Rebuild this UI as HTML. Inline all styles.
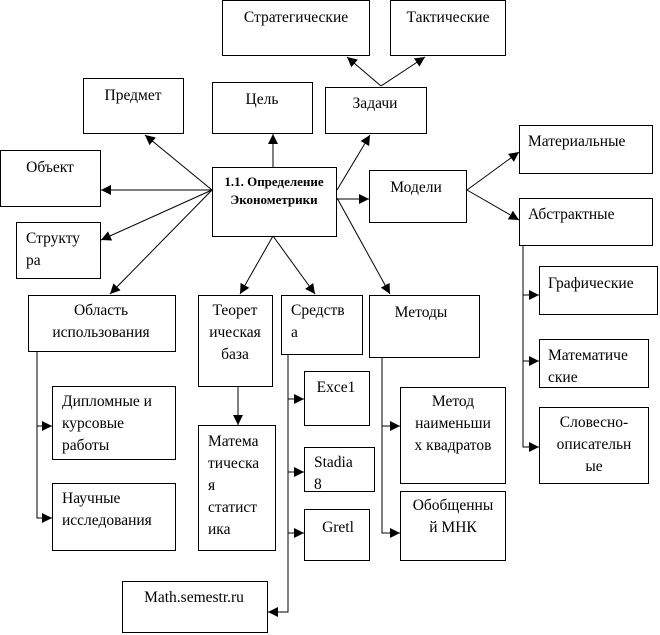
<!DOCTYPE html>
<html><head><meta charset="utf-8"><style>
html,body{margin:0;padding:0;background:#fff}
svg{display:block}
svg text{font-family:"Liberation Serif","DejaVu Serif","Noto Serif CJK SC",serif !important;font-size:15.5px;fill:#000}
</style></head><body>
<svg width="660" height="635" viewBox="0 0 660 635" xmlns="http://www.w3.org/2000/svg">
<defs><marker id="a" viewBox="0 0 10 10" refX="10" refY="5" markerWidth="10" markerHeight="10" markerUnits="userSpaceOnUse" orient="auto"><path d="M0,0L10,5L0,10z" fill="#000"/></marker></defs>
<g fill="#fff" stroke="#000" stroke-width="1">
<rect x="222.5" y="0.5" width="147" height="55"/>
<rect x="390.5" y="0.5" width="115" height="55"/>
<rect x="83.5" y="78.5" width="100" height="55"/>
<rect x="212.5" y="82.5" width="100" height="51"/>
<rect x="325.5" y="87.5" width="101" height="46"/>
<rect x="0.5" y="150.5" width="100" height="56"/>
<rect x="16.5" y="222.5" width="84" height="56"/>
<rect x="212.5" y="167.5" width="124" height="69"/>
<rect x="369.5" y="170.5" width="97" height="52"/>
<rect x="519.5" y="125.5" width="133" height="48"/>
<rect x="519.5" y="198.5" width="133" height="47"/>
<rect x="539.5" y="266.5" width="118" height="48"/>
<rect x="539.5" y="339.5" width="109" height="48"/>
<rect x="539.5" y="407.5" width="109" height="76"/>
<rect x="28.5" y="295.5" width="147" height="56"/>
<rect x="198.5" y="295.5" width="74" height="91"/>
<rect x="281.5" y="295.5" width="81" height="59"/>
<rect x="369.5" y="295.5" width="110" height="62"/>
<rect x="52.5" y="386.5" width="123" height="73"/>
<rect x="52.5" y="483.5" width="123" height="67"/>
<rect x="198.5" y="425.5" width="77" height="125"/>
<rect x="122.5" y="581.5" width="145" height="51"/>
<rect x="304.5" y="371.5" width="65" height="54"/>
<rect x="304.5" y="447.5" width="70" height="44"/>
<rect x="304.5" y="509.5" width="65" height="51"/>
<rect x="400.5" y="387.5" width="105" height="96"/>
<rect x="400.5" y="491.5" width="105" height="69"/>
</g>
<g stroke="#000" stroke-width="1" fill="none" marker-end="url(#a)">
<line x1="212" y1="190" x2="145" y2="135"/>
<line x1="212" y1="190" x2="101" y2="190"/>
<line x1="212" y1="190" x2="101" y2="240"/>
<line x1="212" y1="190" x2="110" y2="294"/>
<line x1="273" y1="167" x2="273" y2="134"/>
<line x1="273" y1="236" x2="240" y2="294"/>
<line x1="273" y1="236" x2="315" y2="294"/>
<line x1="337" y1="190" x2="370" y2="135"/>
<line x1="337" y1="199" x2="369" y2="199"/>
<line x1="337" y1="198" x2="390" y2="294"/>
<line x1="381" y1="86" x2="347" y2="57"/>
<line x1="381" y1="86" x2="425" y2="57"/>
<line x1="467" y1="190" x2="519" y2="152"/>
<line x1="467" y1="190" x2="519" y2="220"/>
<line x1="238" y1="387" x2="238" y2="425"/>
<polyline points="37,351 37,426 52,426"/>
<polyline points="37,426 37,518 52,518"/>
<polyline points="288,354 288,399 304,399"/>
<polyline points="288,399 288,472 304,472"/>
<polyline points="288,472 288,533 304,533"/>
<polyline points="288,533 288,612 268,612"/>
<polyline points="382,357 382,426 400,426"/>
<polyline points="382,426 382,533 400,533"/>
<polyline points="523,245 523,295 539,295"/>
<polyline points="523,295 523,361 539,361"/>
<polyline points="523,361 523,447 539,447"/>
</g>
<g text-anchor="middle">
<text x="296" y="22">Стратегические</text>
<text x="448" y="22">Тактические</text>
<text x="133" y="100">Предмет</text>
<text x="262" y="104">Цель</text>
<text x="375" y="108">Задачи</text>
<text x="50" y="172">Объект</text>
<text x="274" y="186" style="font-size:13px;font-weight:bold">1.1. Определение</text>
<text x="274" y="204" style="font-size:13px;font-weight:bold">Эконометрики</text>
<text x="416" y="192">Модели</text>
<text x="101" y="315">Область</text>
<text x="101" y="337">использования</text>
<text x="235" y="315">Теорет</text>
<text x="235" y="337">ическая</text>
<text x="235" y="359">база</text>
<text x="421" y="317">Методы</text>
<text x="194" y="602">Math.semestr.ru</text>
<text x="336" y="392">Exce1</text>
<text x="338" y="532">Gretl</text>
<text x="453" y="406">Метод</text>
<text x="453" y="428">наименьши</text>
<text x="453" y="450">х квадратов</text>
<text x="453" y="510">Обобщенны</text>
<text x="453" y="532">й МНК</text>
<text x="594" y="427">Словесно-</text>
<text x="594" y="449">описательн</text>
<text x="594" y="471">ые</text>
</g>
<g>
<text x="26" y="243">Структу</text>
<text x="26" y="265">ра</text>
<text x="528" y="146">Материальные</text>
<text x="528" y="219">Абстрактные</text>
<text x="548" y="288">Графические</text>
<text x="548" y="360">Математиче</text>
<text x="548" y="382">ские</text>
<text x="291" y="315">Средств</text>
<text x="291" y="337">а</text>
<text x="314" y="467">Stadia</text>
<text x="314" y="489">8</text>
<text x="62" y="406">Дипломные и</text>
<text x="62" y="428">курсовые</text>
<text x="62" y="450">работы</text>
<text x="62" y="503">Научные</text>
<text x="62" y="525">исследования</text>
<text x="208" y="446">Матема</text>
<text x="208" y="468">тическа</text>
<text x="208" y="490">я</text>
<text x="208" y="512">статист</text>
<text x="208" y="534">ика</text>
</g>
</svg>
</body></html>
